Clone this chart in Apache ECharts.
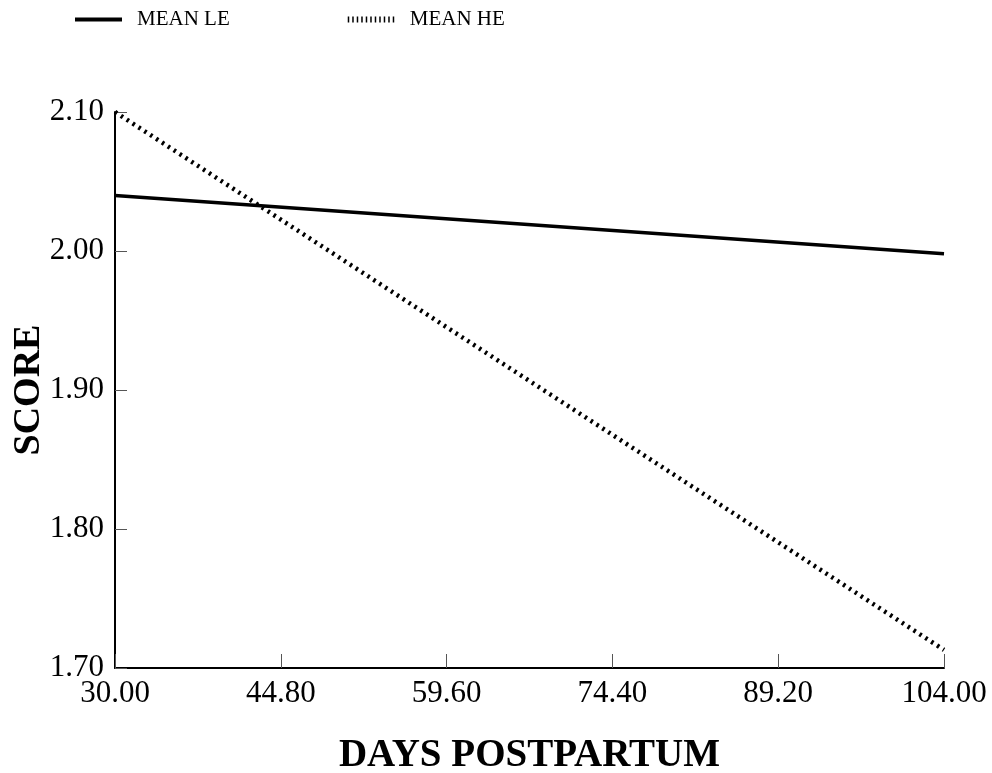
<!DOCTYPE html>
<html>
<head>
<meta charset="utf-8">
<script src="https://cdn.jsdelivr.net/npm/echarts@6/dist/echarts.min.js"></script>
<style>
  html, body { margin: 0; padding: 0; background: #fff; }
  #chart { width: 992px; height: 773px; }
</style>
</head>
<body>
<div id="chart"></div>
<script>
// Days postpartum at the two ends of each fitted line
const days = [30, 104];
// Mean score, low-E group
const meanLE = [2.04, 1.998];
// Mean score, high-E group
const meanHE = [2.10, 1.713];
// Axis tick settings
const xTickStart = 30, xTickEnd = 104, xTickStep = 14.8;
const yTickStart = 1.70, yTickEnd = 2.10, yTickStep = 0.10;

const serif = '"Liberation Serif", "Times New Roman", serif';

const chart = echarts.init(document.getElementById('chart'), null, { renderer: 'canvas' });

chart.setOption({
  animation: false,
  backgroundColor: '#ffffff',
  legend: {
    left: 73,
    top: 9,
    padding: 0,
    itemWidth: 47,
    itemHeight: 16,
    itemGap: 115,
    itemStyle: { opacity: 0 },
    textStyle: { fontFamily: serif, fontSize: 21, color: '#000', padding: [0, 0, 0, 10] },
    data: [
      { name: 'MEAN LE', lineStyle: { width: 4, type: 'solid' } },
      { name: 'MEAN HE', lineStyle: { width: 6, type: [1.5, 3], cap: 'butt' } }
    ]
  },
  grid: { left: 115, right: 48, top: 112, bottom: 105, containLabel: false, outerBoundsMode: 'none' },
  xAxis: {
    type: 'value',
    min: xTickStart,
    max: xTickEnd,
    interval: xTickStep,
    name: 'DAYS POSTPARTUM',
    nameLocation: 'middle',
    nameGap: 68,
    nameMoveOverlap: false,
    nameTextStyle: { fontFamily: serif, fontSize: 39, fontWeight: 'bold', color: '#000' },
    axisLine: { show: true, lineStyle: { color: '#000', width: 2 } },
    axisTick: { show: true, inside: true, length: 14, lineStyle: { color: '#555', width: 1 } },
    axisLabel: {
      fontFamily: serif, fontSize: 31, color: '#000', margin: 10,
      formatter: v => v.toFixed(2)
    },
    splitLine: { show: false }
  },
  yAxis: {
    type: 'value',
    min: yTickStart,
    max: yTickEnd,
    interval: yTickStep,
    name: 'SCORE',
    nameLocation: 'middle',
    nameRotate: 90,
    nameGap: 67,
    nameMoveOverlap: false,
    nameTextStyle: { fontFamily: serif, fontSize: 38, fontWeight: 'bold', color: '#000' },
    axisLine: { show: true, lineStyle: { color: '#000', width: 2 } },
    axisTick: { show: true, inside: true, length: 12, lineStyle: { color: '#555', width: 1 } },
    axisLabel: {
      fontFamily: serif, fontSize: 31, color: '#000', margin: 11,
      formatter: v => v.toFixed(2)
    },
    splitLine: { show: false }
  },
  series: [
    {
      name: 'MEAN LE',
      type: 'line',
      symbol: 'none',
      data: days.map((d, i) => [d, meanLE[i]]),
      lineStyle: { color: '#000', width: 3.5, type: 'solid' },
      itemStyle: { color: '#000' }
    },
    {
      name: 'MEAN HE',
      type: 'line',
      symbol: 'none',
      data: days.map((d, i) => [d, meanHE[i]]),
      lineStyle: { color: '#000', width: 4.5, type: [2.5, 4.5], cap: 'butt' },
      itemStyle: { color: '#000' }
    }
  ]
});
</script>
</body>
</html>
